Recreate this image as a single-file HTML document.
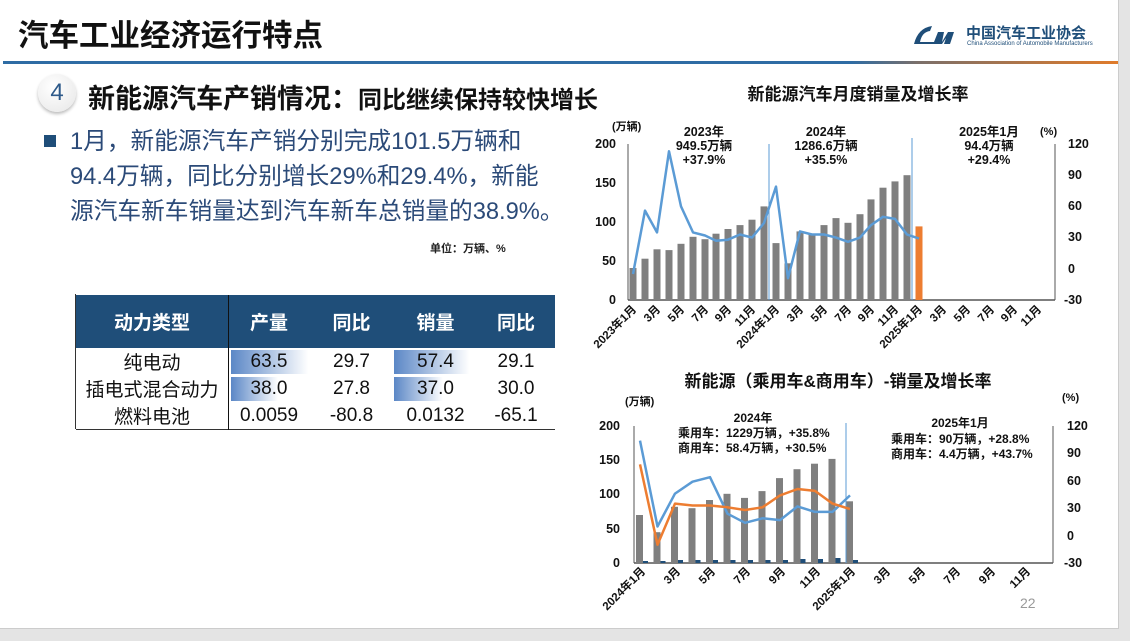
<!DOCTYPE html>
<html><head><meta charset="utf-8"><style>
body{margin:0;width:1130px;height:641px;overflow:hidden;background:#e4e4e4;font-family:"Liberation Sans","Noto Sans CJK SC",sans-serif;}
.slide{position:absolute;left:0;top:0;width:1118px;height:628px;background:#fff;border-right:1px solid #ccc;border-bottom:1px solid #ccc;}
.abs{position:absolute;white-space:nowrap;}
table{border-collapse:collapse;}
td{padding:0;}
</style></head><body><div class="slide">
<div class="abs" style="left:18px;top:11px;font-size:30.5px;font-weight:bold;color:#111;">汽车工业经济运行特点</div>
<div class="abs" style="left:3px;top:61px;width:1115px;height:3px;background:linear-gradient(90deg,#2e6ca4 0%,#2e6ca4 76%,#7a6f6a 82%,#e07b2a 100%);"></div>
<svg class="abs" style="left:908px;top:22px" width="60" height="28"><path d="M6 22 Q10 6 24 4 L22 9 Q14 10 12 20 L26 20 L30 10 L36 10 L34 20 L40 10 L46 10 L42 22 L36 22 L38 16 L34 22 Z" fill="#1f4e79"/></svg>
<div class="abs" style="left:966px;top:22px;font-size:15px;font-weight:bold;color:#1f4e79;">中国汽车工业协会</div>
<div class="abs" style="left:967px;top:41px;font-size:6px;color:#1f4e79;">China Association of Automobile Manufacturers</div>
<div class="abs" style="left:38px;top:74px;width:38px;height:38px;border-radius:50%;background:radial-gradient(circle at 40% 35%,#fff,#e6e6e6);box-shadow:0 2px 3px #bbb;font-size:24px;color:#2e5a8a;text-align:center;line-height:38px;">4</div>
<div class="abs" style="left:88px;top:77px;color:#111;font-weight:bold;"><span style="font-size:27px;">新能源汽车产销情况：</span><span style="font-size:24px;">同比继续保持较快增长</span></div>
<div class="abs" style="left:44px;top:135px;width:12px;height:12px;background:#1f4e79;"></div>
<div class="abs" style="left:70px;top:125px;font-size:23.7px;line-height:35px;color:#2b4a78;">1月，新能源汽车产销分别完成101.5万辆和<br>94.4万辆，同比分别增长29%和29.4%，新能<br>源汽车新车销量达到汽车新车总销量的38.9%。</div>
<div class="abs" style="left:430px;top:240px;font-size:11px;font-weight:bold;color:#222;">单位：万辆、%</div>
<table class="abs" style="left:76px;top:295px;width:479px;font-size:19px;color:#111;border-bottom:1.5px solid #333;">
<tr style="background:#1f4e79;color:#fff;font-weight:bold;height:53px;"><td style="width:152px;text-align:center;border-right:1.5px solid #111;">动力类型</td><td style="text-align:center;width:80px">产量</td><td style="text-align:center;width:85px">同比</td><td style="text-align:center;width:83px">销量</td><td style="text-align:center">同比</td></tr>
<tr style="height:27px"><td style="text-align:center;border-right:1.5px solid #111;">纯电动</td><td style="text-align:center;background:linear-gradient(90deg,#5b87c6,#fff 98%);background-size:79px 24px;background-repeat:no-repeat;background-position:2px 2px;">63.5</td><td style="text-align:center">29.7</td><td style="text-align:center;background:linear-gradient(90deg,#5b87c6,#fff 98%);background-size:77px 24px;background-repeat:no-repeat;background-position:0 2px;">57.4</td><td style="text-align:center">29.1</td></tr>
<tr style="height:27px"><td style="text-align:center;border-right:1.5px solid #111;">插电式混合动力</td><td style="text-align:center;background:linear-gradient(90deg,#5b87c6,#fff);background-size:47px 24px;background-repeat:no-repeat;background-position:2px 2px;">38.0</td><td style="text-align:center">27.8</td><td style="text-align:center;background:linear-gradient(90deg,#5b87c6,#fff);background-size:49px 24px;background-repeat:no-repeat;background-position:0 2px;">37.0</td><td style="text-align:center">30.0</td></tr>
<tr style="height:26px"><td style="text-align:center;border-right:1.5px solid #111;">燃料电池</td><td style="text-align:center">0.0059</td><td style="text-align:center">-80.8</td><td style="text-align:center">0.0132</td><td style="text-align:center">-65.1</td></tr>
</table>
<div class="abs" style="left:75px;top:294px;width:1px;height:135px;background:#333"></div>

<svg class="abs" style="left:0;top:0" width="1118" height="628" font-family="Liberation Sans,Noto Sans CJK SC,sans-serif">
<g font-weight="bold" fill="#111">
<text x="858" y="100" font-size="17" text-anchor="middle">新能源汽车月度销量及增长率</text>
<text x="612" y="130" font-size="11">(万辆)</text>
<text x="1040" y="135" font-size="11">(%)</text>
<g font-size="12.5" text-anchor="middle"><text x="704" y="136">2023年</text><text x="704" y="150">949.5万辆</text><text x="704" y="164">+37.9%</text>
<text x="826" y="136">2024年</text><text x="826" y="150">1286.6万辆</text><text x="826" y="164">+35.5%</text>
<text x="989" y="136">2025年1月</text><text x="989" y="150">94.4万辆</text><text x="989" y="164">+29.4%</text></g>
<g font-size="12.5" text-anchor="end"><text x="616" y="148">200</text><text x="616" y="187">150</text><text x="616" y="226">100</text><text x="616" y="265">50</text><text x="616" y="304">0</text></g>
<g font-size="12.5"><text x="1068" y="148">120</text><text x="1068" y="179">90</text><text x="1068" y="210">60</text><text x="1068" y="241">30</text><text x="1068" y="273">0</text><text x="1064" y="304">-30</text></g>
<g font-size="11.5" text-anchor="end">
<text transform="translate(637,310) rotate(-45)">2023年1月</text><text transform="translate(661,310) rotate(-45)">3月</text><text transform="translate(685,310) rotate(-45)">5月</text><text transform="translate(709,310) rotate(-45)">7月</text><text transform="translate(732,310) rotate(-45)">9月</text><text transform="translate(756,310) rotate(-45)">11月</text><text transform="translate(780,310) rotate(-45)">2024年1月</text><text transform="translate(804,310) rotate(-45)">3月</text><text transform="translate(828,310) rotate(-45)">5月</text><text transform="translate(852,310) rotate(-45)">7月</text><text transform="translate(875,310) rotate(-45)">9月</text><text transform="translate(899,310) rotate(-45)">11月</text><text transform="translate(923,310) rotate(-45)">2025年1月</text><text transform="translate(947,310) rotate(-45)">3月</text><text transform="translate(971,310) rotate(-45)">5月</text><text transform="translate(995,310) rotate(-45)">7月</text><text transform="translate(1018,310) rotate(-45)">9月</text><text transform="translate(1042,310) rotate(-45)">11月</text></g>
</g>
<line x1="628" y1="144" x2="628" y2="300" stroke="#555"/><line x1="1055" y1="144" x2="1055" y2="300" stroke="#555"/><line x1="628" y1="300" x2="1055" y2="300" stroke="#555" stroke-width="1.5"/>
<g fill="#7f7f7f">
<rect x="629.5" y="268" width="7" height="32"/><rect x="641.5" y="258.7" width="7" height="41.3"/><rect x="653.5" y="249.3" width="7" height="50.7"/><rect x="665.5" y="250.1" width="7" height="49.9"/><rect x="677.5" y="243.8" width="7" height="56.2"/><rect x="689.5" y="236.8" width="7" height="63.2"/><rect x="701.5" y="239.2" width="7" height="60.8"/><rect x="712.5" y="233.7" width="7" height="66.3"/><rect x="724.5" y="229" width="7" height="71"/><rect x="736.5" y="225.1" width="7" height="74.9"/><rect x="748.5" y="219.7" width="7" height="80.3"/><rect x="760.5" y="206.4" width="7" height="93.6"/>
<rect x="772.5" y="243.1" width="7" height="56.9"/><rect x="784.5" y="263.3" width="7" height="36.7"/><rect x="796.5" y="231.4" width="7" height="68.6"/><rect x="808.5" y="233.7" width="7" height="66.3"/><rect x="820.5" y="225.1" width="7" height="74.9"/><rect x="832.5" y="218.1" width="7" height="81.9"/><rect x="844.5" y="222.8" width="7" height="77.2"/><rect x="856.5" y="214.2" width="7" height="85.8"/><rect x="867.5" y="199.4" width="7" height="100.6"/><rect x="879.5" y="187.7" width="7" height="112.3"/><rect x="891.5" y="181.4" width="7" height="118.6"/><rect x="903.5" y="175.2" width="7" height="124.8"/></g>
<rect x="915.5" y="226.4" width="7" height="73.6" fill="#ed7d31"/>
<line x1="769" y1="144" x2="769" y2="300" stroke="#5b9bd5" stroke-width="1"/><line x1="912" y1="138" x2="912" y2="300" stroke="#5b9bd5" stroke-width="1"/>
<polyline fill="none" stroke="#5b9bd5" stroke-width="2.5" stroke-linejoin="round" points="633,274 645,210.6 657,232.4 669,151.3 681,206.4 693,232.4 705,235.5 716,240.7 728,239.7 740,234.5 752,237.6 764,223 776,186.6 788,278.2 800,231.4 812,234.5 824,234.5 836,237.6 848,241.8 860,237.6 871,225.1 883,216.8 895,218.9 907,234.5 919,238.6"/>

<g font-weight="bold" fill="#111">
<text x="838" y="387" font-size="17" text-anchor="middle">新能源（乘用车&amp;商用车）-销量及增长率</text>
<text x="625" y="405" font-size="11">(万辆)</text>
<text x="1062" y="401" font-size="11">(%)</text>
<g font-size="12" text-anchor="middle"><text x="753" y="422">2024年</text><text x="960" y="427">2025年1月</text></g>
<g font-size="12"><text x="678" y="437">乘用车：1229万辆，+35.8%</text><text x="678" y="452">商用车：58.4万辆，+30.5%</text>
<text x="891" y="443">乘用车：90万辆，+28.8%</text><text x="891" y="458">商用车：4.4万辆，+43.7%</text></g>
<g font-size="12.5" text-anchor="end"><text x="620" y="430">200</text><text x="620" y="464">150</text><text x="620" y="498">100</text><text x="620" y="533">50</text><text x="620" y="567">0</text></g>
<g font-size="12.5"><text x="1067" y="430">120</text><text x="1067" y="457">90</text><text x="1067" y="485">60</text><text x="1067" y="512">30</text><text x="1067" y="540">0</text><text x="1064" y="567">-30</text></g>
<g font-size="11.5" text-anchor="end">
<text transform="translate(646,572) rotate(-45)">2024年1月</text><text transform="translate(681,572) rotate(-45)">3月</text><text transform="translate(716,572) rotate(-45)">5月</text><text transform="translate(751,572) rotate(-45)">7月</text><text transform="translate(786,572) rotate(-45)">9月</text><text transform="translate(821,572) rotate(-45)">11月</text><text transform="translate(856,572) rotate(-45)">2025年1月</text><text transform="translate(891,572) rotate(-45)">3月</text><text transform="translate(926,572) rotate(-45)">5月</text><text transform="translate(961,572) rotate(-45)">7月</text><text transform="translate(996,572) rotate(-45)">9月</text><text transform="translate(1031,572) rotate(-45)">11月</text></g>
</g>
<line x1="634" y1="426" x2="634" y2="563" stroke="#555"/><line x1="1053" y1="426" x2="1053" y2="563" stroke="#555"/><line x1="634" y1="563" x2="1053" y2="563" stroke="#555" stroke-width="1.5"/>
<g fill="#7f7f7f">
<rect x="636" y="515" width="7" height="48"/><rect x="653.5" y="532.2" width="7" height="30.8"/><rect x="671" y="506.8" width="7" height="56.2"/><rect x="688.5" y="508.2" width="7" height="54.8"/><rect x="706" y="500" width="7" height="63"/><rect x="723.5" y="493.8" width="7" height="69.2"/><rect x="741" y="497.9" width="7" height="65.1"/><rect x="758.5" y="491.1" width="7" height="71.9"/><rect x="776" y="478.1" width="7" height="84.9"/><rect x="793.5" y="469.2" width="7" height="93.8"/><rect x="811" y="463.7" width="7" height="99.3"/><rect x="828.5" y="458.9" width="7" height="104.1"/><rect x="846" y="501.3" width="7" height="61.7"/></g>
<g fill="#1f4e79"><rect x="643" y="561" width="5" height="2"/><rect x="660.5" y="561" width="5" height="2"/><rect x="678" y="560" width="5" height="3"/><rect x="695.5" y="560" width="5" height="3"/><rect x="713" y="560" width="5" height="3"/><rect x="730.5" y="560" width="5" height="3"/><rect x="748" y="560" width="5" height="3"/><rect x="765.5" y="560" width="5" height="3"/><rect x="783" y="560" width="5" height="3"/><rect x="800.5" y="559" width="5" height="4"/><rect x="818" y="559" width="5" height="4"/><rect x="835.5" y="558" width="5" height="5"/><rect x="853" y="560" width="5" height="3"/></g>
<line x1="846" y1="423" x2="846" y2="563" stroke="#5b9bd5" stroke-width="1"/>
<polyline fill="none" stroke="#5b9bd5" stroke-width="2.5" stroke-linejoin="round" points="640,440.6 657.5,526.5 675,493.6 692.5,481.7 710,477.2 727.5,513.7 745,522.8 762.5,518.3 780,520.1 797.5,506.4 815,511.9 832.5,511.9 850,495.4"/>
<polyline fill="none" stroke="#ed7d31" stroke-width="2.5" stroke-linejoin="round" points="640,464.4 657.5,544.7 675,503.6 692.5,505.5 710,505.5 727.5,507.3 745,510 762.5,507.3 780,495.4 797.5,489 815,490.9 832.5,503.6 850,509.1"/>
<text x="1020" y="608" font-size="14" fill="#999">22</text>
</svg>
</div></body></html>
